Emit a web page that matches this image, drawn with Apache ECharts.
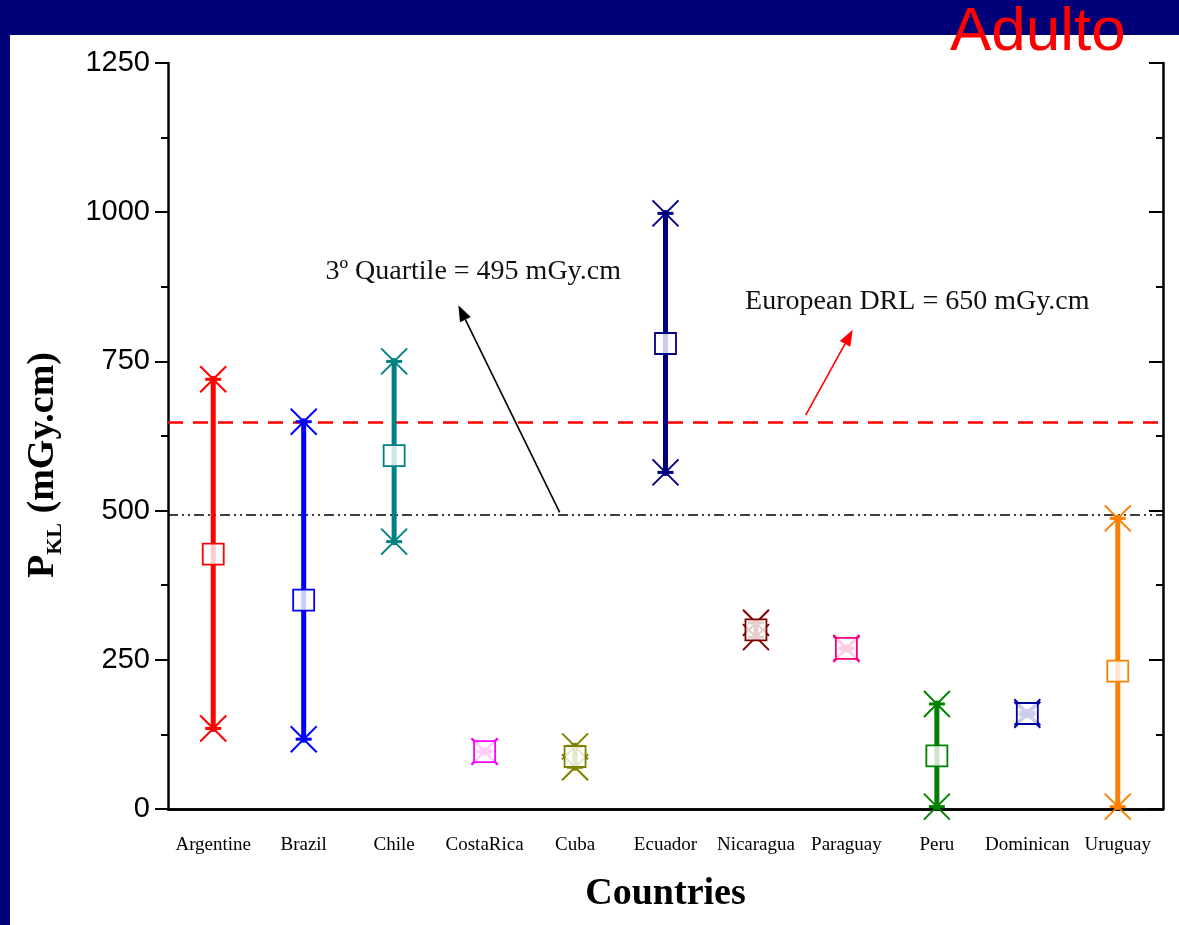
<!DOCTYPE html>
<html>
<head>
<meta charset="utf-8">
<script src="https://cdn.jsdelivr.net/npm/echarts@6/dist/echarts.min.js"></script>
<style>
  html, body { margin: 0; padding: 0; background: #000078; }
  #chart { width: 1179px; height: 925px; }
</style>
</head>
<body>
<div id="chart"></div>
<script>
// Countries and P_KL values (mGy.cm)
const countries = ['Argentine', 'Brazil', 'Chile', 'CostaRica', 'Cuba', 'Ecuador', 'Nicaragua', 'Paraguay', 'Peru', 'Dominican', 'Uruguay']
const minValues = [135, 117, 448, 96, 70, 564, 288, 268, 4, 158, 4]
const medianValues = [427, 350, 592, 96, 88, 780, 300, 269, 89, 160, 231]
const maxValues = [720, 649, 750, 97, 105, 998, 312, 270, 176, 162, 487]
const yTicks = [0, 250, 500, 750, 1000, 1250]

const drlValue = 648
const quartileValue = 493

// annotation texts + arrows (in axis units: category index, value)
const noteTexts = ['3º Quartile = 495 mGy.cm', 'European DRL = 650 mGy.cm']
const notePos = [[1.24, 900], [5.88, 850]]
const arrowFrom = [[3.83, 497], [6.55, 660]]
const arrowTo = [[2.71, 844], [7.07, 803]]

const countryColors = ['#ff0000', '#0000ff', '#008080', '#ff00ff', '#808000', '#000080', '#800000', '#ff0080', '#008000', '#0000a0', '#ff8000']
const arrowColors = ['#000000', '#ff0000']

const chart = echarts.init(document.getElementById('chart'))

const rangeData = countries.map((c, i) => [i, minValues[i], medianValues[i], maxValues[i]])

function star(p, color) {
  const s = 13
  return [
    { type: 'line', shape: { x1: p[0] - s, y1: p[1] - s, x2: p[0] + s, y2: p[1] + s }, style: { stroke: color, lineWidth: 2 } },
    { type: 'line', shape: { x1: p[0] - s, y1: p[1] + s, x2: p[0] + s, y2: p[1] - s }, style: { stroke: color, lineWidth: 2 } },
    { type: 'line', shape: { x1: p[0] - 8, y1: p[1], x2: p[0] + 8, y2: p[1] }, style: { stroke: color, lineWidth: 3 } },
    { type: 'circle', shape: { cx: p[0], cy: p[1], r: 3.5 }, style: { fill: color } }
  ]
}

function renderRange(params, api) {
  const x = api.value(0)
  const lo = api.coord([x, api.value(1)])
  const md = api.coord([x, api.value(2)])
  const hi = api.coord([x, api.value(3)])
  const color = countryColors[params.dataIndex]
  const h = 10.5
  return {
    type: 'group',
    children: [
      { type: 'line', shape: { x1: lo[0], y1: lo[1], x2: hi[0], y2: hi[1] }, style: { stroke: color, lineWidth: 5 } },
      ...star(lo, color),
      ...star(hi, color),
      { type: 'rect', shape: { x: md[0] - h, y: md[1] - h, width: 2 * h, height: 2 * h }, style: { fill: 'rgba(255,255,255,0.8)', stroke: color, lineWidth: 1.8 } }
    ]
  }
}

function renderNote(params, api) {
  const i = params.dataIndex
  const t = api.coord(notePos[i])
  const a = api.coord(arrowFrom[i])
  const b = api.coord(arrowTo[i])
  const ang = Math.atan2(b[1] - a[1], b[0] - a[0])
  const len = 16, wid = 6
  const bx = b[0] - len * Math.cos(ang), by = b[1] - len * Math.sin(ang)
  const nx = -Math.sin(ang) * wid, ny = Math.cos(ang) * wid
  const color = arrowColors[i]
  return {
    type: 'group',
    children: [
      { type: 'text', x: t[0], y: t[1], style: { text: noteTexts[i], fill: '#111', font: '28px "Liberation Serif"', verticalAlign: 'middle', align: 'left' } },
      { type: 'line', shape: { x1: a[0], y1: a[1], x2: bx, y2: by }, style: { stroke: color, lineWidth: 1.6 } },
      { type: 'polygon', shape: { points: [[b[0], b[1]], [bx + nx, by + ny], [bx - nx, by - ny]] }, style: { fill: color } }
    ]
  }
}

const option = {
  backgroundColor: '#000078',
  animation: false,
  graphic: [
    { type: 'rect', z: -10, left: 10, top: 35, shape: { width: 1169, height: 890 }, style: { fill: '#ffffff' } },
    { type: 'text', z: 10, left: 950, top: 2, style: { text: 'Adulto', fill: '#ff0000', font: '62px "Liberation Sans"' } }
  ],
  grid: { left: 168, right: 16, top: 63, bottom: 116 },
  xAxis: [
    {
      type: 'category',
      data: countries,
      boundaryGap: true,
      position: 'bottom',
      axisLine: { lineStyle: { color: '#000', width: 2.5 } },
      axisTick: { alignWithLabel: true, length: 12, lineStyle: { color: '#000', width: 2 } },
      axisLabel: { color: '#000', fontFamily: 'Liberation Serif', fontSize: 19, margin: 27, interval: 0 },
      name: 'Countries',
      nameLocation: 'middle',
      nameGap: 66,
      nameTextStyle: { color: '#000', fontFamily: 'Liberation Serif', fontWeight: 'bold', fontSize: 38 }
    },
    {
      type: 'category',
      data: countries,
      boundaryGap: true,
      position: 'top',
      axisLine: { lineStyle: { color: '#000', width: 2.5 } },
      axisTick: { alignWithLabel: true, inside: true, length: 12, lineStyle: { color: '#000', width: 2 } },
      axisLabel: { show: false }
    },
    {
      // hidden linear twin of the category axis, for annotation placement
      type: 'value',
      min: -0.5,
      max: countries.length - 0.5,
      show: false,
      splitLine: { show: false }
    }
  ],
  yAxis: [
    {
      type: 'value',
      min: yTicks[0],
      max: yTicks[yTicks.length - 1],
      interval: 250,
      position: 'left',
      splitLine: { show: false },
      axisLine: { show: true, onZero: false, lineStyle: { color: '#000', width: 2.5 } },
      axisTick: { show: true, length: 13, lineStyle: { color: '#000', width: 2 } },
      minorTick: { show: true, splitNumber: 2, length: 7, lineStyle: { color: '#000', width: 2 } },
      axisLabel: { color: '#000', fontFamily: 'Liberation Sans', fontSize: 29, margin: 18, formatter: v => String(v) },
      name: '{p|P}{s|KL}{p| (mGy.cm)}',
      nameLocation: 'middle',
      nameGap: 106,
      nameTextStyle: {
        padding: [0, 58, 0, 0],
        rich: {
          p: { color: '#000', fontFamily: 'Liberation Serif', fontWeight: 'bold', fontSize: 38, verticalAlign: 'bottom' },
          s: { color: '#000', fontFamily: 'Liberation Serif', fontWeight: 'bold', fontSize: 22, verticalAlign: 'bottom', padding: [0, 0, -4, 0] }
        }
      }
    },
    {
      type: 'value',
      min: yTicks[0],
      max: yTicks[yTicks.length - 1],
      interval: 250,
      position: 'right',
      splitLine: { show: false },
      axisLine: { show: true, onZero: false, lineStyle: { color: '#000', width: 2.5 } },
      axisTick: { show: true, inside: true, length: 14, lineStyle: { color: '#000', width: 2 } },
      minorTick: { show: true, splitNumber: 2, length: 7, lineStyle: { color: '#000', width: 2 } },
      axisLabel: { show: false }
    }
  ],
  series: [
    {
      type: 'custom',
      renderItem: renderRange,
      data: rangeData,
      z: 5,
      clip: false,
      markLine: {
        silent: true,
        symbol: 'none',
        label: { show: false },
        data: [
          { yAxis: drlValue, lineStyle: { color: '#ff0000', width: 2.5, type: [15, 10] } },
          { yAxis: quartileValue, lineStyle: { color: '#000', width: 1.5, type: [10, 4, 2, 4, 2, 4] } }
        ]
      }
    },
    {
      type: 'custom',
      xAxisIndex: 2,
      renderItem: renderNote,
      data: noteTexts.map((t, i) => [i]),
      z: 6,
      clip: false
    }
  ]
}

chart.setOption(option)
</script>
</body>
</html>
